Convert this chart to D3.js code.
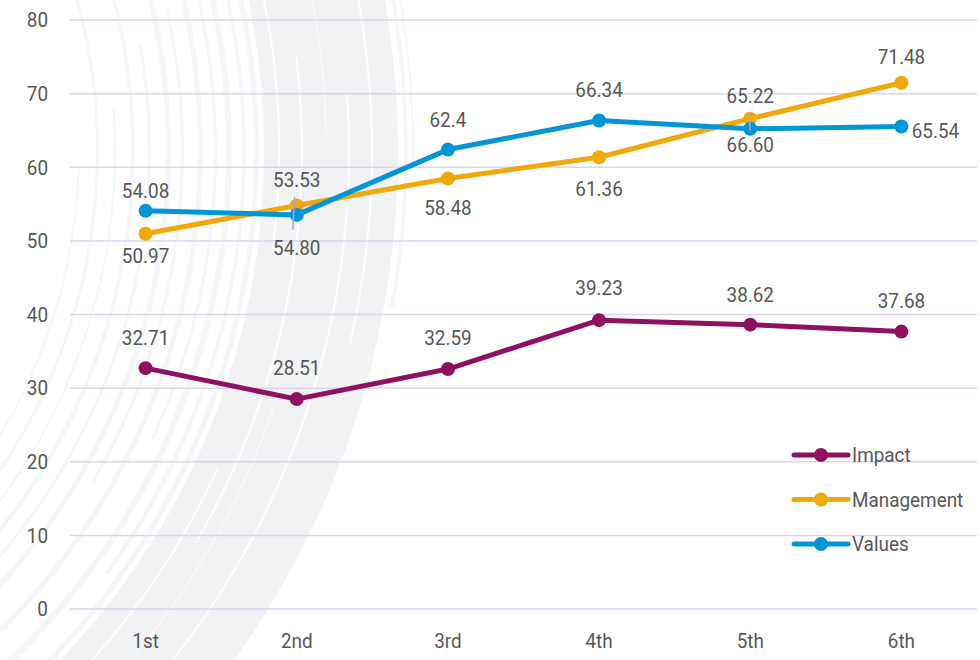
<!DOCTYPE html>
<html>
<head>
<meta charset="utf-8">
<script src="https://cdn.jsdelivr.net/npm/d3@7"></script>
<style>
  body { margin: 0; background: #fff; }
  svg { display: block; font-family: Roboto, 'Noto Sans', sans-serif; }
  .lbl { fill: #575757; font-size: 21px; }
</style>
</head>
<body>
<div id="chart"></div>
<script>
const categories = ['1st', '2nd', '3rd', '4th', '5th', '6th'];
const impact = [32.71, 28.51, 32.59, 39.23, 38.62, 37.68];
const management = [50.97, 54.80, 58.48, 61.36, 66.60, 71.48];
const values = [54.08, 53.53, 62.4, 66.34, 65.22, 65.54];
const impactLabels = ['32.71', '28.51', '32.59', '39.23', '38.62', '37.68'];
const managementLabels = ['50.97', '54.80', '58.48', '61.36', '66.60', '71.48'];
const valuesLabels = ['54.08', '53.53', '62.4', '66.34', '65.22', '65.54'];
const yTicks = [0, 10, 20, 30, 40, 50, 60, 70, 80];

const width = 980;
const height = 660;
const margin = {top: 20, right: 3, bottom: 51, left: 70};

// label offsets from their point (px)
const impactDy = [-31, -31, -31, -33, -30, -31];
const managementDy = [22, 42, 29, 31, 26, -26];
const valuesDy = [-20, -35, -30, -31, -33, 4];
const valuesDx = [0, 0, 0, 0, 0, 34];

const series = [
  {name: 'Impact', color: '#8e1160', data: impact, labels: impactLabels, dy: impactDy},
  {name: 'Management', color: '#f0a80a', data: management, labels: managementLabels, dy: managementDy},
  {name: 'Values', color: '#0396d6', data: values, labels: valuesLabels, dy: valuesDy, dx: valuesDx}
];

const squeeze = 0.9; // narrow the font a little
const place = (sel, fx, fy) => sel.attr('transform', (d, i) => `translate(${fx(d, i)},${fy(d, i)}) scale(${squeeze},1)`);

const svg = d3.select('#chart').append('svg')
  .attr('width', width)
  .attr('height', height);

// background brush stroke (big faint arc)
const bg = svg.append('g').attr('transform', 'translate(-474,151)');
const arcGen = d3.arc();
bg.append('path')
  .attr('d', arcGen({innerRadius: 738, outerRadius: 872, startAngle: 1.2, endAngle: 2.5}))
  .attr('fill', '#f1f2f4');
const greyStreaks = [
  [878, 882, 1.3, 1.75], [886, 888, 1.35, 1.6], [728, 733, 1.2, 2.4], [716, 720, 1.25, 2.2],
  [700, 706, 1.2, 2.45], [688, 691, 1.3, 2.0], [672, 677, 1.2, 2.45], [655, 658, 1.35, 2.1],
  [640, 645, 1.2, 2.45], [622, 625, 1.4, 2.3], [605, 609, 1.2, 2.45], [588, 590, 1.5, 2.4],
  [570, 573, 1.3, 2.45], [552, 554, 1.6, 2.45]
];
bg.append('g')
  .selectAll('path')
  .data(greyStreaks)
  .join('path')
  .attr('d', d => arcGen({innerRadius: d[0], outerRadius: d[1], startAngle: d[2], endAngle: d[3]}))
  .attr('fill', '#eef0f2')
  .attr('opacity', 0.6);
const whiteStreaks = [
  [752, 754, 1.25, 1.7], [775, 777, 1.45, 2.1], [800, 801, 1.2, 1.55], [822, 824, 1.5, 2.3],
  [845, 847, 1.25, 1.8], [790, 791, 1.9, 2.4], [760, 762, 2.0, 2.45]
];
bg.append('g')
  .selectAll('path')
  .data(whiteStreaks)
  .join('path')
  .attr('d', d => arcGen({innerRadius: d[0], outerRadius: d[1], startAngle: d[2], endAngle: d[3]}))
  .attr('fill', '#ffffff')
  .attr('opacity', 0.8);

const x = d3.scalePoint()
  .domain(categories)
  .range([margin.left, width - margin.right])
  .padding(0.5);

const y = d3.scaleLinear()
  .domain([0, 80])
  .range([height - margin.bottom, margin.top]);

// gridlines
svg.append('g')
  .selectAll('line')
  .data(yTicks)
  .join('line')
  .attr('x1', margin.left)
  .attr('x2', width - margin.right)
  .attr('y1', d => y(d))
  .attr('y2', d => y(d))
  .attr('stroke', '#ddd3ef')
  .attr('stroke-width', 1.5);

svg.append('g')
  .selectAll('text')
  .data(yTicks)
  .join('text')
  .attr('class', 'lbl')
  .attr('dy', '0.35em')
  .attr('text-anchor', 'end')
  .call(place, () => 48, d => y(d))
  .text(d => d);

svg.append('g')
  .selectAll('text')
  .data(categories)
  .join('text')
  .attr('class', 'lbl')
  .attr('dy', '0.35em')
  .attr('text-anchor', 'middle')
  .call(place, d => x(d), () => 641)
  .text(d => d);

const line = d3.line()
  .x((d, i) => x(categories[i]))
  .y(d => y(d));

const lines = svg.append('g');
series.forEach(s => {
  lines.append('path')
    .attr('d', line(s.data))
    .attr('fill', 'none')
    .attr('stroke', s.color)
    .attr('stroke-width', 5)
    .attr('stroke-linejoin', 'round');
  lines.append('g')
    .selectAll('circle')
    .data(s.data)
    .join('circle')
    .attr('cx', (d, i) => x(categories[i]))
    .attr('cy', d => y(d))
    .attr('r', 7)
    .attr('fill', s.color);
});

// leader lines where labels got pushed
svg.append('line')
  .attr('x1', x('2nd') - 2).attr('y1', y(management[1]) - 9)
  .attr('x2', x('2nd') - 4).attr('y2', y(values[1]) + 15)
  .attr('stroke', '#b59ee0').attr('stroke-width', 1.5);
svg.append('line')
  .attr('x1', x('5th') - 1).attr('y1', y(management[4]) - 6)
  .attr('x2', x('5th')).attr('y2', y(values[4]) + 2)
  .attr('stroke', '#b59ee0').attr('stroke-width', 1.5);

const labels = svg.append('g');
series.forEach(s => {
  labels.append('g')
    .selectAll('text')
    .data(s.data)
    .join('text')
    .attr('class', 'lbl')
    .attr('dy', '0.35em')
    .attr('text-anchor', 'middle')
    .call(place, (d, i) => x(categories[i]) + (s.dx ? s.dx[i] : 0), (d, i) => y(d) + s.dy[i])
    .text((d, i) => s.labels[i]);
});

// legend
const legend = svg.append('g')
  .selectAll('g')
  .data(series)
  .join('g')
  .attr('transform', (d, i) => `translate(794,${455 + i * 44.5})`);
legend.append('line')
  .attr('x1', 0).attr('x2', 54)
  .attr('stroke', d => d.color)
  .attr('stroke-width', 5)
  .attr('stroke-linecap', 'round');
legend.append('circle')
  .attr('cx', 27).attr('r', 7)
  .attr('fill', d => d.color);
legend.append('text')
  .attr('class', 'lbl')
  .attr('dy', '0.35em')
  .attr('transform', `translate(58,0) scale(${squeeze},1)`)
  .text(d => d.name);
</script>
</body>
</html>
